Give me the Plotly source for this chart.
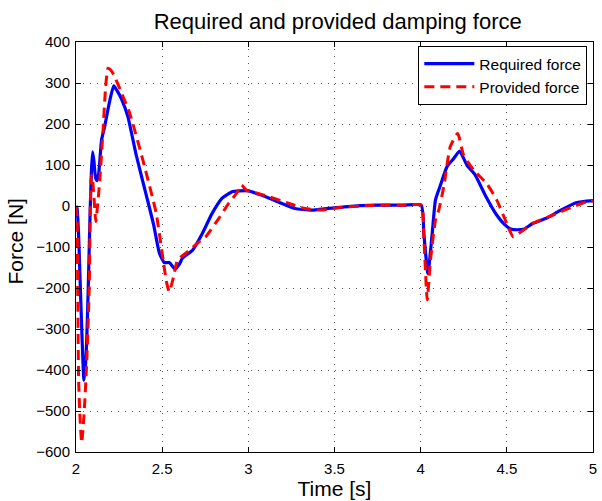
import plotly.graph_objects as go

t_req = [2.000, 2.006, 2.015, 2.023, 2.035, 2.046, 2.054, 2.062, 2.071, 2.081, 2.089, 2.096,
         2.104, 2.113, 2.122, 2.132, 2.148, 2.167, 2.19, 2.219, 2.24, 2.263, 2.301, 2.349,
         2.407, 2.45, 2.484, 2.512, 2.541, 2.576, 2.60, 2.618, 2.676, 2.733, 2.79, 2.848,
         2.906, 2.95, 3.002, 3.05, 3.098, 3.174, 3.27, 3.366, 3.462, 3.558, 3.75, 3.9,
         4.003, 4.019, 4.042, 4.067, 4.086, 4.115, 4.153, 4.192, 4.226, 4.268, 4.316,
         4.374, 4.441, 4.489, 4.527, 4.595, 4.652, 4.729, 4.805, 4.902, 5.0]
f_req = [0, -5, -70, -170, -320, -425, -395, -330, -200, -30, 80, 132,
         110, 70, 62, 80, 160, 195, 245, 293, 280, 262, 218, 125,
         28, -45, -115, -138, -138, -154, -142, -127, -108, -67, -18, 19,
         35, 37, 37, 30, 23, 10, -6, -10, -6, -2, 2, 2,
         2, -70, -165, -67, 15, 51, 96, 116, 134, 100, 76,
         27, -22, -46, -57, -57, -42, -30, -12, 8, 13]

t_prov = [2.000, 2.006, 2.010, 2.015, 2.022, 2.033, 2.043, 2.052, 2.062, 2.077, 2.083, 2.089,
          2.097, 2.106, 2.115, 2.127, 2.138, 2.157, 2.172, 2.186, 2.205, 2.225, 2.26, 2.311,
          2.388, 2.465, 2.503, 2.525, 2.541, 2.565, 2.589, 2.637, 2.704, 2.752, 2.829, 2.887,
          2.93, 2.96, 2.99, 3.021, 3.117, 3.232, 3.328, 3.424, 3.52, 3.75, 3.9, 4.003,
          4.019, 4.038, 4.057, 4.086, 4.105, 4.134, 4.172, 4.215, 4.249, 4.307, 4.383,
          4.441, 4.499, 4.537, 4.595, 4.652, 4.767, 4.882, 4.959, 5.0]
f_prov = [0, -25, -200, -420, -505, -578, -530, -470, -383, -197, 0, 75,
          60, 10, -38, 10, 63, 185, 290, 336, 330, 315, 280, 227,
          112, -17, -124, -185, -209, -175, -132, -115, -91, -75, -30, 7,
          30, 51, 38, 35, 23, 7, -6, -10, -4, 2, 2, 2,
          -83, -229, -132, -34, -10, 47, 145, 177, 124, 88, 55,
          15, -42, -75, -59, -42, -22, -2, 10, 12]

fig = go.Figure()
fig.add_trace(go.Scatter(x=t_req, y=f_req, mode="lines", name="Required force",
                         line=dict(color="#0000FF", width=3.2, shape="spline", smoothing=0.5)))
fig.add_trace(go.Scatter(x=t_prov, y=f_prov, mode="lines", name="Provided force",
                         line=dict(color="#FF0000", width=3, dash="10px,6px", shape="spline", smoothing=0.5)))

font = "Liberation Sans, Arial, Helvetica, sans-serif"
axis_common = dict(showline=True, linecolor="black", linewidth=1, mirror="ticks",
                   ticks="inside", ticklen=5, tickcolor="black", showgrid=True,
                   gridcolor="#555555", griddash="1px,6px", gridwidth=1, zeroline=False,
                   tickfont=dict(family=font, size=15, color="black"))

fig.update_layout(
    width=602, height=501,
    margin=dict(l=76, r=5, t=42, b=49),
    paper_bgcolor="white", plot_bgcolor="white",
    font=dict(family=font, color="black"),
    title=dict(text="Required and provided damping force", x=0.561, xanchor="center",
               y=0.958, yanchor="middle", yref="container",
               font=dict(family=font, size=22, color="black")),
    xaxis=dict(range=[2, 5], dtick=0.5, tick0=2, ticklabelstandoff=3,
               title=dict(text="Time [s]", font=dict(family=font, size=21), standoff=3),
               **axis_common),
    yaxis=dict(range=[-600, 400], dtick=100, tick0=0, ticklabelstandoff=2, **axis_common),
    legend=dict(x=0.989, xanchor="right", y=0.99, yanchor="top",
                bgcolor="white", bordercolor="black", borderwidth=1,
                font=dict(family=font, size=15.5, color="black"),
                tracegroupgap=0, itemwidth=50),
    showlegend=True,
    annotations=[dict(text="Force [N]", textangle=-90, xref="paper", yref="paper",
                      x=(15 - 76) / 521, y=(452 - 241) / 410, xanchor="center", yanchor="middle",
                      showarrow=False, font=dict(family=font, size=21, color="black"))],
)

fig.write_html("out.html")
